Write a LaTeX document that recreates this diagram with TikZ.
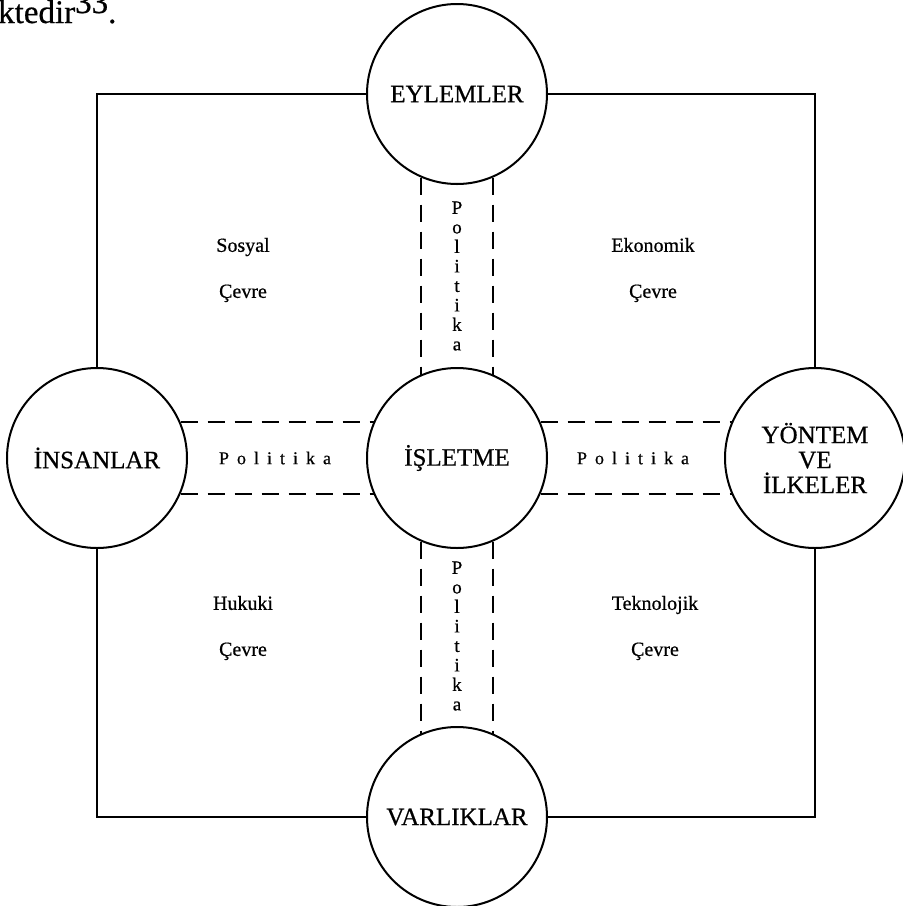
\documentclass[tikz,border=0pt]{standalone}
\usepackage{fontspec}
\setmainfont{Liberation Serif}[FakeBold=0.6]
\usetikzlibrary{calc}
\newcommand{\polword}{P\kern8pt o\kern8pt l\kern8pt i\kern8pt t\kern8pt i\kern8pt k\kern8pt a}
\begin{document}
\begin{tikzpicture}[x=1pt,y=-1pt,
  hub/.style={circle, draw, line width=2pt, minimum size=180pt, inner sep=0pt,
              font=\fontsize{25}{25}\selectfont, align=center},
  frame/.style={line width=1.8pt},
  policy/.style={line width=2pt, dash pattern=on 17pt off 10pt},
  env/.style={font=\fontsize{20}{46}\selectfont, align=center},
  polh/.style={font=\fontsize{18}{20}\selectfont, inner sep=0pt},
  polv/.style={font=\fontsize{19}{19.5}\selectfont, align=center, inner sep=0pt}]
\clip (0,0) rectangle (903,906);
\fill[white] (0,0) rectangle (903,906);

% running text above the figure
\node[anchor=base west, inner sep=0pt, font=\fontsize{33}{36}\selectfont] (txt) at (-2,23)
  {ktedir\raisebox{10pt}{33}.};

% the five circles
\node[hub] (eyl) at (457,94)  {EYLEMLER};
\node[hub] (ins) at (97,458)  {İNSANLAR};
\node[hub] (isl) at (457,458) {İŞLETME};
\node[hub] (yon) at (815,458) {YÖNTEM\\VE\\İLKELER};
\node[hub] (var) at (457,817) {VARLIKLAR};

% outer frame
\draw[frame] (eyl.west) -| (ins.north);
\draw[frame] (eyl.east) -| (yon.north);
\draw[frame] (var.west) -| (ins.south);
\draw[frame] (var.east) -| (yon.south);

% policy channels: parallel lines 36pt either side of the axes,
% ending on the circle outlines (radius 91pt -> chord offset 83.5pt)
\draw[policy] ($(ins.center)+(83.5,-36)$) -- ($(isl.center)+(-83.5,-36)$);
\draw[policy] ($(ins.center)+(83.5,36)$)  -- ($(isl.center)+(-83.5,36)$);
\draw[policy] ($(isl.center)+(83.5,-36)$) -- ($(yon.center)+(-83.5,-36)$);
\draw[policy] ($(isl.center)+(83.5,36)$)  -- ($(yon.center)+(-83.5,36)$);
\draw[policy] ($(eyl.center)+(-36,83.5)$) -- ($(isl.center)+(-36,-83.5)$);
\draw[policy] ($(eyl.center)+(36,83.5)$)  -- ($(isl.center)+(36,-83.5)$);
\draw[policy] ($(isl.center)+(-36,83.5)$) -- ($(var.center)+(-36,-83.5)$);
\draw[policy] ($(isl.center)+(36,83.5)$)  -- ($(var.center)+(36,-83.5)$);

% channel labels
\node[polh] (pl) at (275,458) {\polword};
\node[polh] (pr) at (633,458) {\polword};
\node[polv] (pt) at (457,276) {P\\o\\l\\i\\t\\i\\k\\a};
\node[polv] (pb) at (457,636) {P\\o\\l\\i\\t\\i\\k\\a};

% environments
\node[env] (sos) at (243,270) {Sosyal\\Çevre};
\node[env] (eko) at (653,270) {Ekonomik\\Çevre};
\node[env] (huk) at (243,628) {Hukuki\\Çevre};
\node[env] (tek) at (655,628) {Teknolojik\\Çevre};
\end{tikzpicture}
\end{document}
